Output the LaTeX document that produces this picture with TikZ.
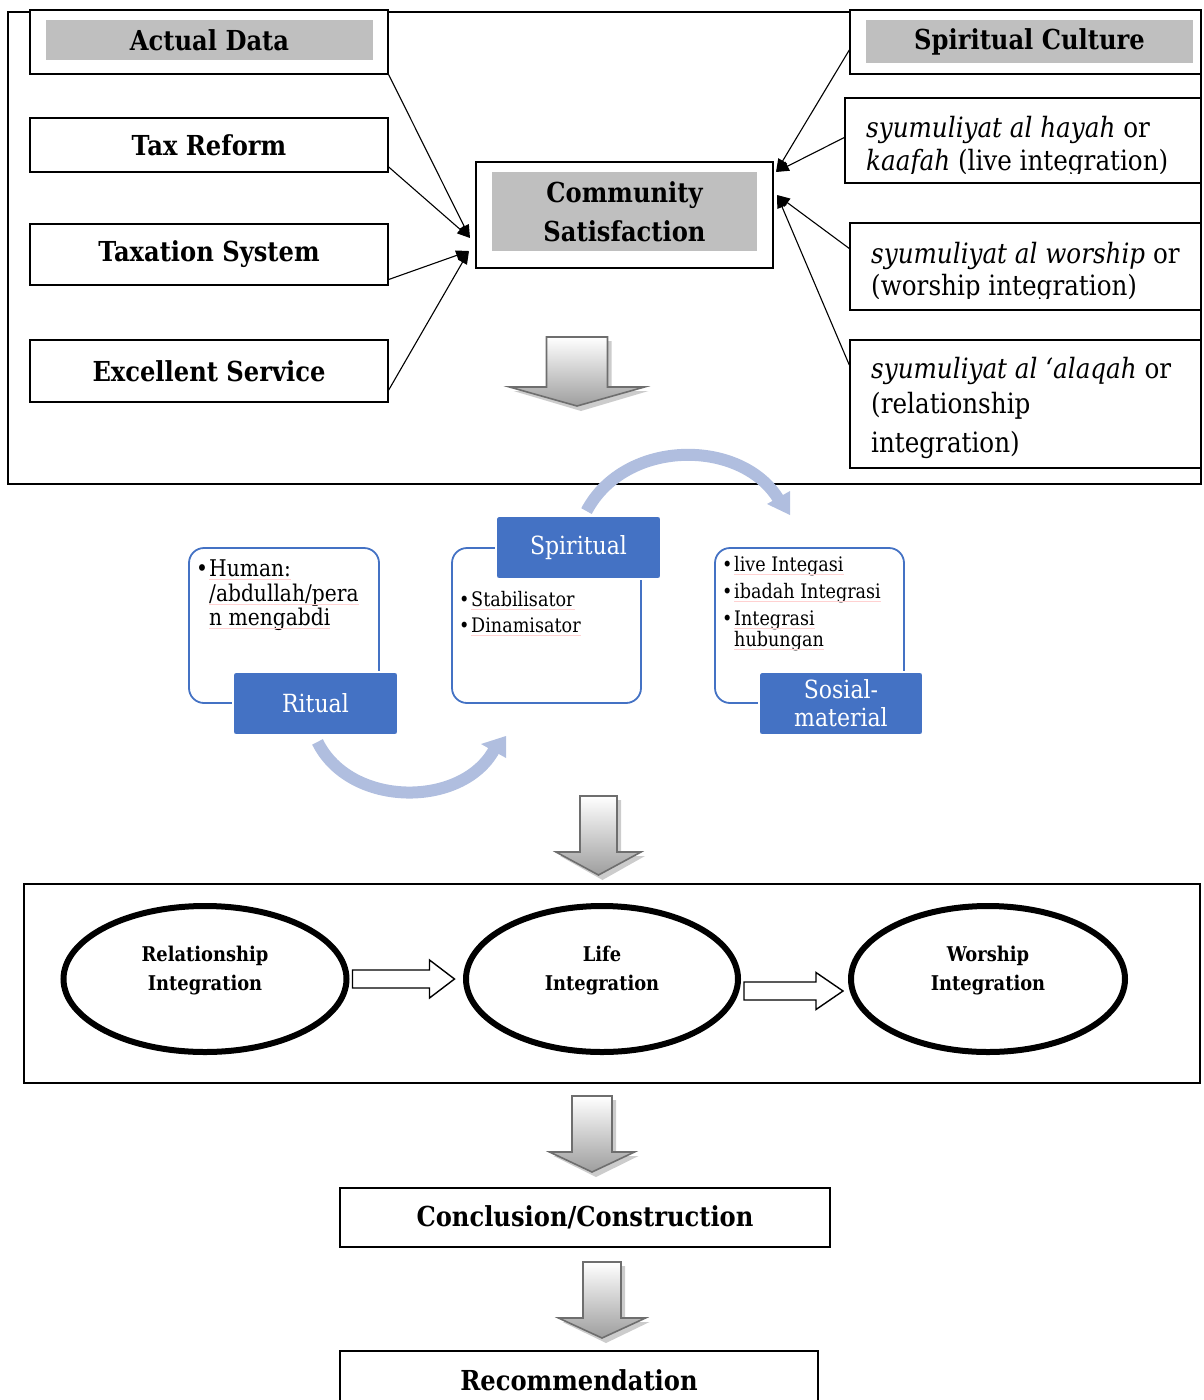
\documentclass[tikz,border=0pt]{standalone}
\usepackage{fontspec}
\setmainfont{DejaVu Serif}[FakeStretch=0.88]
\usetikzlibrary{arrows.meta,shapes.geometric}
\definecolor{boxgray}{HTML}{BFBFBF}
\definecolor{smblue}{HTML}{4472C4}
\definecolor{arcblue}{HTML}{B0BEDF}
\definecolor{rimgray}{HTML}{6E6E6E}

% shaded block arrow pointing down: centre x, top y, shaft width, shaft height, head width, head height
\newcommand{\gradarrow}[6]{%
  \fill[black!20] ({#1-#3/2+4},{#2+4}) -- ({#1+#3/2+4},{#2+4}) -- ({#1+#3/2+4},{#2+#4+4})
    -- ({#1+#5/2+4},{#2+#4+4}) -- ({#1+4},{#2+#4+#6+5}) -- ({#1-#5/2+4},{#2+#4+4})
    -- ({#1-#3/2+4},{#2+#4+4}) -- cycle;
  \shade[top color=white, bottom color=black!38, draw=rimgray, line width=1.6pt, line join=miter]
    ({#1-#3/2},#2) -- ({#1+#3/2},#2) -- ({#1+#3/2},{#2+#4}) -- ({#1+#5/2},{#2+#4})
    -- (#1,{#2+#4+#6}) -- ({#1-#5/2},{#2+#4}) -- ({#1-#3/2},{#2+#4}) -- cycle;
}

\begin{document}
\begin{tikzpicture}[x=1pt,y=-1pt,
  frame/.style={draw, line width=1.4pt},
  box/.style={frame, fill=white, inner sep=0pt},
  shadebox/.style={fill=boxgray, inner sep=0pt},
  bigtxt/.style={font=\bfseries\fontsize{27.5}{39}\selectfont, align=center},
  conn/.style={-{Triangle[length=13pt,width=10pt]}, line width=1.1pt},
  itl/.style={anchor=base west, inner sep=0pt, font=\fontsize{28}{34}\selectfont},
  card/.style={draw=smblue, line width=1.8pt, rounded corners=15pt, fill=white},
  tag/.style={fill=smblue, draw=white, line width=1.8pt, rounded corners=3pt, text=white,
    font=\fontsize{25}{28}\selectfont, align=center, inner sep=0pt},
  bul/.style={anchor=base west, inner sep=0pt, font=\fontsize{20}{24}\selectfont},
  bulbig/.style={anchor=base west, inner sep=0pt, font=\fontsize{23}{24}\selectfont},
  spell/.style={draw=red!18, line width=0.6pt},
  sweep/.style={draw=arcblue, line width=12pt},
  ring/.style={ellipse, draw, line width=6pt, fill=white, inner sep=0pt},
  ringtxt/.style={font=\bfseries\fontsize{20.3}{29}\selectfont, align=center},
  hollow/.style={draw, line width=1.4pt, fill=white, line join=miter}
]
\useasboundingbox (0,0) rectangle (1203,1400);

% ---------- upper frame: data sources and spiritual culture ----------
\draw[frame] (8,12) rectangle (1201,484);

\node[box, minimum width=358, minimum height=64] (actual) at (209,42) {};
\node[shadebox, minimum width=327, minimum height=40, bigtxt] (actualtxt) at (209.5,40) {Actual Data};
\node[box, minimum width=358, minimum height=54, bigtxt] (tax) at (209,145) {Tax Reform};
\node[box, minimum width=358, minimum height=61, bigtxt] (taxsys) at (209,254.5) {Taxation System};
\node[box, minimum width=358, minimum height=62, bigtxt] (excel) at (209,371) {Excellent Service};

\node[box, minimum width=297, minimum height=106] (cs) at (624.5,215) {};
\node[shadebox, minimum width=265, minimum height=79, bigtxt] (cstxt) at (624.5,211.5) {Community\\Satisfaction};

\node[box, minimum width=351, minimum height=64] (sc) at (1025.5,42) {};
\node[shadebox, minimum width=327, minimum height=43, bigtxt] (sctxt) at (1029.5,41.5) {Spiritual Culture};
\node[box, minimum width=356, minimum height=85] (hay) at (1023,140.5) {};
\node[box, minimum width=351, minimum height=87] (wor) at (1025.5,266.5) {};
\node[box, minimum width=351, minimum height=128] (ala) at (1025.5,404) {};
\draw[frame] (1201,10) -- (1201,484);

\begin{scope}
  \clip (845,98) rectangle (1201,173);
  \node[itl] (hay1) at (866,137) {\textit{syumuliyat al hayah} or};
  \node[itl] (hay2) at (866,170) {\textit{kaafah} (live integration)};
\end{scope}
\begin{scope}
  \clip (850,223) rectangle (1201,298.5);
  \node[itl] (wor1) at (871,263) {\textit{syumuliyat al worship} or};
  \node[itl] (wor2) at (871,295) {(worship integration)};
\end{scope}
\node[itl] (ala1) at (871,378) {\textit{syumuliyat al {\char"60}alaqah} or};
\node[itl] (ala2) at (871,413) {(relationship};
\node[itl] (ala3) at (871,452) {integration)};

% arrows into Community Satisfaction
\coordinate (inA) at (470,238);
\coordinate (inB) at (469,251);
\coordinate (outA) at (776,172);
\coordinate (outB) at (777,195);
\draw[conn] (actual.south east) -- (inA);
\draw[conn] ([yshift=-22pt]tax.east) -- (inA);
\draw[conn] ([yshift=-25pt]taxsys.east) -- (inB);
\draw[conn] ([yshift=-19pt]excel.east) -- (inB);
\draw[conn] ([yshift=-8pt]sc.west) -- (outA);
\draw[conn] ([yshift=3pt]hay.west) -- (outA);
\draw[conn] ([yshift=18pt]wor.west) -- (outB);
\draw[conn] ([yshift=39pt]ala.west) -- (outB);

\gradarrow{577}{337}{61}{50}{135}{19}

% ---------- cycle: ritual, spiritual, socio-material ----------
\node[card, minimum width=190, minimum height=155] (c1) at (284,625.5) {};
\node[card, minimum width=189, minimum height=155] (c2) at (546.5,625.5) {};
\node[card, minimum width=189, minimum height=155] (c3) at (809.5,625.5) {};
\node[tag, minimum width=165, minimum height=63] (t1) at (315.5,703.5) {Ritual};
\node[tag, minimum width=165, minimum height=63] (t2) at (578.5,547.5) {Spiritual};
\node[tag, minimum width=164, minimum height=63] (t3) at (841,703.5) {Sosial-\\material};

\node[bulbig] (b1a) at (196,576) {•};
\node[bulbig] (b1b) at (209,576) {Human:};
\node[bulbig] (b1c) at (209,601) {/abdullah/pera};
\node[bulbig] (b1d) at (209,625) {n mengabdi};
\node[bul] (b2a) at (459,606) {•};
\node[bul] (b2b) at (471,606) {Stabilisator};
\node[bul] (b2c) at (459,632) {•};
\node[bul] (b2d) at (471,632) {Dinamisator};
\node[bul] (b3a) at (722,571) {•};
\node[bul] (b3b) at (734,571) {live Integasi};
\node[bul] (b3c) at (722,598) {•};
\node[bul] (b3d) at (734,598) {ibadah Integrasi};
\node[bul] (b3e) at (722,625) {•};
\node[bul] (b3f) at (734,625) {Integrasi};
\node[bul] (b3g) at (734,646) {hubungan};

% spell-check marks under the card texts
\foreach \n in {b1b,b1c,b1d,b2b,b2d,b3b,b3d,b3f,b3g}
  \draw[spell] ([yshift=-3pt]\n.base west) -- ([yshift=-3pt]\n.base east);

% curved transition arrows
\coordinate (sw1end) at (494,750);
\coordinate (sw2end) at (779,500);
\draw[sweep] ([shift={(2pt,-6pt)}]t1.south) .. controls (350,808) and (462,808) .. (sw1end);
\fill[arcblue] (481,744) -- (506,736) -- (506,758) -- cycle;
\draw[sweep] ([shift={(8pt,4pt)}]t2.north) .. controls (625,438) and (742,438) .. (sw2end);
\fill[arcblue] (767,504) -- (790,491) -- (790,515) -- cycle;

\gradarrow{598.5}{796}{37}{56}{85}{23}

% ---------- integration stages ----------
\draw[frame] (24,884) rectangle (1200,1083);
\node[ring, minimum width=283, minimum height=146] (e1) at (205,979) {};
\node[ring, minimum width=272, minimum height=146] (e2) at (602,979) {};
\node[ring, minimum width=274, minimum height=146] (e3) at (988,979) {};
\node[ringtxt] (e1t) at (205,971) {Relationship\\Integration};
\node[ringtxt] (e2t) at (602,971) {Life\\Integration};
\node[ringtxt] (e3t) at (988,971) {Worship\\Integration};
\draw[hollow] (e1.east) +(3,-9) -- +(80,-9) -- +(80,-19) -- +(105,0) -- +(80,19) -- +(80,9) -- +(3,9) -- cycle;
\draw[hollow] ([yshift=-12pt]e2.east) +(3,-9) -- +(75,-9) -- +(75,-18.5) -- +(102,0) -- +(75,18.5) -- +(75,9) -- +(3,9) -- cycle;

\gradarrow{592}{1096}{40}{56}{85}{20}

% ---------- outcome ----------
\node[box, minimum width=490, minimum height=59, bigtxt] (concl) at (585,1217.5) {Conclusion/Construction};

\gradarrow{602}{1262}{38}{56}{87}{20}

\node[box, minimum width=478, minimum height=59, bigtxt] (recom) at (579,1380.5) {Recommendation};
\end{tikzpicture}
\end{document}
